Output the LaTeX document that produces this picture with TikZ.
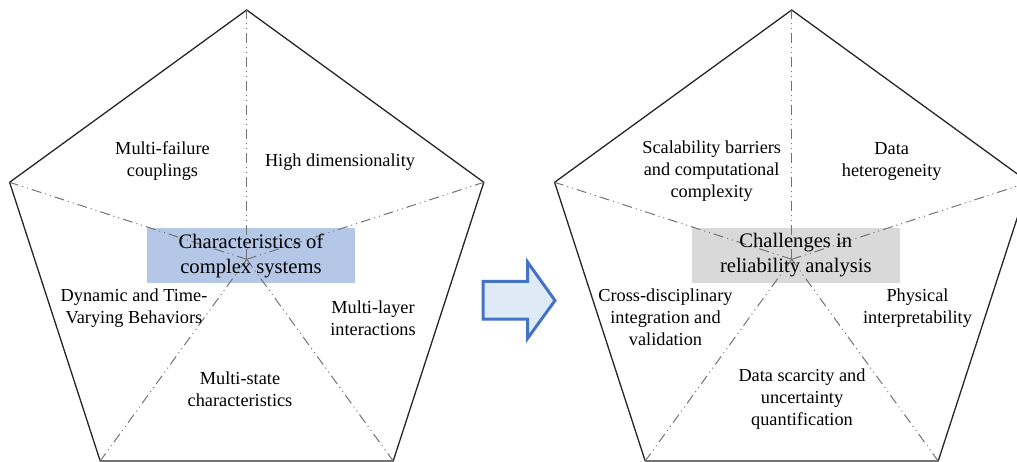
\documentclass[tikz,border=0pt]{standalone}
\usepackage{fontspec}
\setmainfont{Liberation Serif}
\begin{document}
\begin{tikzpicture}[x=1pt,y=-1pt,
  edge/.style={draw=black!85,line width=1.3pt,line join=miter},
  spoke/.style={draw=black!55,line width=1pt,
    dash pattern=on 10pt off 4pt on 1pt off 4pt on 1pt off 4pt},
  label/.style={text=black,align=center,font=\fontsize{18.3}{22}\selectfont},
  hub/.style={minimum width=208pt,minimum height=54.4pt,inner sep=0pt,
    align=center,text=black,font=\fontsize{20.6}{25}\selectfont},
]
\definecolor{hubblue}{RGB}{180,199,231}
\definecolor{hubgray}{RGB}{217,217,217}
\definecolor{arrowline}{RGB}{68,114,196}
\definecolor{arrowfill}{RGB}{222,235,247}
\clip (0,0) rectangle (1017,462);

% left pentagon
\coordinate (lc) at (246.7,259.3);
\coordinate (lt) at (246.7,10);
\coordinate (lul) at (9.6,182.3);
\coordinate (lur) at (483.8,182.3);
\coordinate (lbl) at (100.2,461);
\coordinate (lbr) at (393.2,461);
\draw[edge] (lt) -- (lur) -- (lbr) -- (lbl) -- (lul) -- cycle;
\node[hub,fill=hubblue] (lhub) at (251,255.5) {};
\foreach \v in {lt,lur,lbr,lbl,lul} \draw[spoke] (lc) -- (\v);
\node[hub] at (lhub.center) {Characteristics of\\complex systems};

\node[label] (l1) at (162.5,161) {Multi-failure\\couplings};
\node[label] (l2) at (340,161.7) {High dimensionality};
\node[label] (l3) at (134,308) {Dynamic and Time-\\Varying Behaviors};
\node[label] (l4) at (373,318) {Multi-layer\\interactions};
\node[label] (l5) at (240,389) {Multi-state\\characteristics};

% right pentagon
\coordinate (rc) at (791.7,259.3);
\coordinate (rt) at (791.7,10);
\coordinate (rul) at (554.6,182.3);
\coordinate (rur) at (1028.8,182.3);
\coordinate (rbl) at (645.2,461);
\coordinate (rbr) at (938.2,461);
\draw[edge] (rt) -- (rur) -- (rbr) -- (rbl) -- (rul) -- cycle;
\node[hub,fill=hubgray] (rhub) at (795.8,255.5) {};
\foreach \v in {rt,rur,rbr,rbl,rul} \draw[spoke] (rc) -- (\v);
\node[hub] at (rhub.center) {Challenges in\\reliability analysis};

\node[label] (r1) at (711.7,170.7) {Scalability barriers\\and computational\\complexity};
\node[label] (r2) at (891.7,161.3) {Data\\heterogeneity};
\node[label] (r3) at (665.5,317.5) {Cross-disciplinary\\integration and\\validation};
\node[label] (r4) at (917.5,308.3) {Physical\\interpretability};
\node[label] (r5) at (802,399.3) {Data scarcity and\\uncertainty\\quantification};

% block arrow between the two pentagons
\draw[draw=arrowline,fill=arrowfill,line width=3pt,line join=miter]
  (483,281.5) -- (527.5,281.5) -- (527.5,262) -- (555,300.5)
  -- (527.5,338.5) -- (527.5,319) -- (483,319) -- cycle;
\end{tikzpicture}
\end{document}
